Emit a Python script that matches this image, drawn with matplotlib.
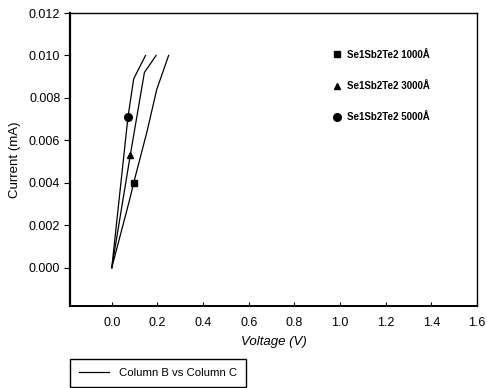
import matplotlib
matplotlib.use("Agg")
import matplotlib.pyplot as plt
from matplotlib.lines import Line2D

plt.rcParams['font.family'] = ['Liberation Sans', 'DejaVu Sans']

# Curves (Voltage V, Current mA)
v_1000 = [0.0, 0.078, 0.096, 0.154, 0.197, 0.249]
i_1000 = [0.0, 0.0032, 0.0040, 0.0064, 0.0084, 0.0100]
v_3000 = [0.0, 0.081, 0.143, 0.194]
i_3000 = [0.0, 0.0053, 0.0092, 0.0100]
v_5000 = [0.0, 0.071, 0.096, 0.148]
i_5000 = [0.0, 0.0071, 0.0089, 0.0100]

# Single marker points per sample
marker_v = [0.096, 0.081, 0.071]
marker_i = [0.0040, 0.0053, 0.0071]
marker_styles = ['s', '^', 'o']
marker_sizes = [5, 4, 5.5]
sample_labels = ['Se1Sb2Te2 1000Å', 'Se1Sb2Te2 3000Å', 'Se1Sb2Te2 5000Å']

xticks = [0.0, 0.2, 0.4, 0.6, 0.8, 1.0, 1.2, 1.4, 1.6]
yticks = [0.000, 0.002, 0.004, 0.006, 0.008, 0.010, 0.012]

fig = plt.figure(figsize=(4.87, 3.88), dpi=100)
ax = fig.add_axes([70/487, 1-306/388, 407/487, 293/388])

for v, i in [(v_1000, i_1000), (v_3000, i_3000), (v_5000, i_5000)]:
    ax.plot(v, i, color='black', lw=0.9)

handles = []
for mv, mi, ms, sz, lab in zip(marker_v, marker_i, marker_styles, marker_sizes, sample_labels):
    h, = ax.plot([mv], [mi], linestyle='none', marker=ms, color='black', markersize=sz, label=lab)
    handles.append(h)

ax.set_xlim(-0.183, 1.6)
ax.set_ylim(-0.0018, 0.012)
ax.set_xticks(xticks)
ax.set_xticklabels([f"{t:.1f}" for t in xticks])
ax.set_yticks(yticks)
ax.set_yticklabels([f"{t:.3f}" for t in yticks])
ax.tick_params(axis='x', direction='in', length=3, labelsize=9, pad=8)
ax.tick_params(axis='y', direction='out', length=4, labelsize=9, pad=3)
for s in ax.spines.values():
    s.set_linewidth(1.0)
ax.spines['left'].set_linewidth(1.6)
ax.spines['bottom'].set_linewidth(1.4)

ax.set_xlabel('Voltage (V)', fontstyle='italic', fontsize=9.5, labelpad=5)
ax.set_ylabel('Current (mA)', fontsize=9.5, labelpad=6)

ax.legend(handles=handles, loc='upper left', bbox_to_anchor=(0.622, 0.905),
          frameon=False, prop={'size': 7, 'weight': 'bold'},
          handlelength=1.0, handletextpad=0.6, labelspacing=2.2)

fig.legend([Line2D([0], [0], color='black', lw=0.9)], ['Column B vs Column C'],
           loc='lower left', bbox_to_anchor=(70/487, 1/388), fancybox=False,
           edgecolor='black', framealpha=1, prop={'size': 8.2},
           handlelength=2.6, borderpad=0.8, handletextpad=0.9, borderaxespad=0)

fig.savefig('out.png', dpi=100)
